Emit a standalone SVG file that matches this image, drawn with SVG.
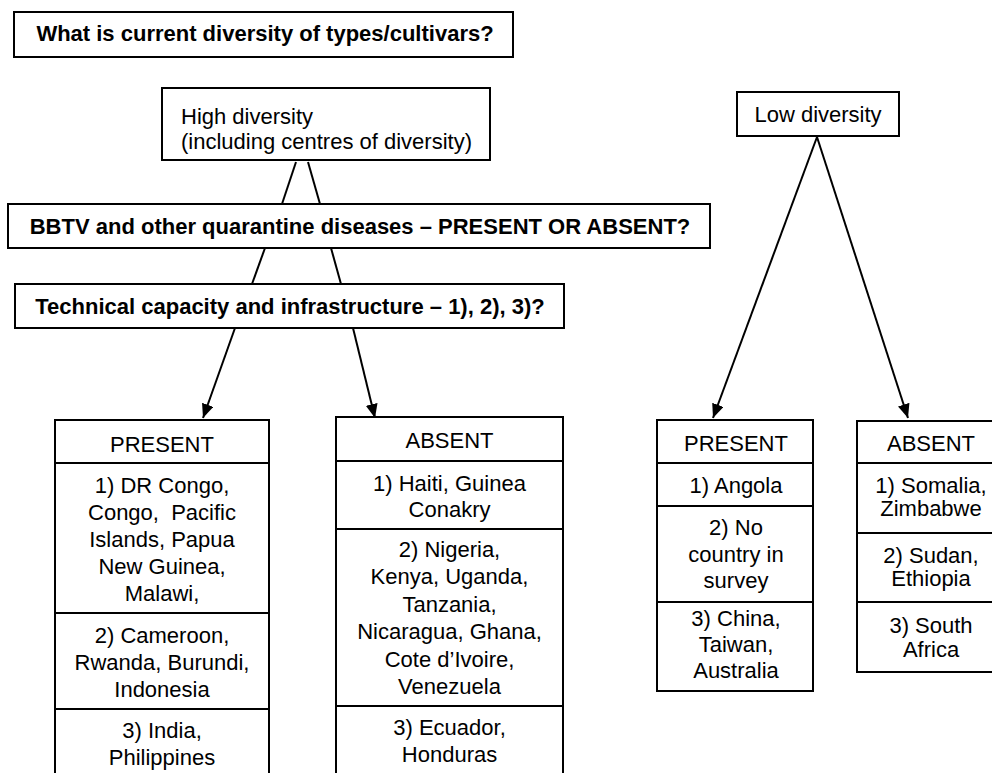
<svg xmlns="http://www.w3.org/2000/svg" width="992" height="773" viewBox="0 0 992 773">
<style>
.box{fill:#fff;stroke:#000;stroke-width:2}
.div{stroke:#000;stroke-width:2;fill:none}
.t{font-family:"Liberation Sans",Arial,Helvetica,sans-serif;font-size:22px;fill:#000}
.c{text-anchor:middle}
.b{font-weight:bold}
.ln{stroke:#000;stroke-width:2;fill:none}
.ar{marker-end:url(#ah)}
</style>
<defs>
<marker id="ah" markerUnits="userSpaceOnUse" markerWidth="14" markerHeight="12" refX="14" refY="6" orient="auto">
<path d="M0,0 L14,6 L0,12 z" fill="#000"/>
</marker>
</defs>
<rect width="992" height="773" fill="#fff"/>

<g id="question">
<rect class="box" x="14" y="12" width="499" height="45"/>
<text class="t b c" x="265" y="41">What is current diversity of types/cultivars?</text>
</g>

<g id="high-diversity">
<rect class="box" x="162" y="88" width="328" height="72"/>
<text class="t" x="181" y="124">High diversity</text>
<text class="t" x="181" y="149">(including centres of diversity)</text>
</g>

<g id="low-diversity">
<rect class="box" x="737" y="92" width="162" height="44"/>
<text class="t c" x="818" y="122">Low diversity</text>
</g>

<g id="bbtv">
<rect class="box" x="8" y="204" width="702" height="44"/>
<text class="t b c" x="360" y="234">BBTV and other quarantine diseases – PRESENT OR ABSENT?</text>
</g>

<g id="technical">
<rect class="box" x="15" y="284" width="549" height="44"/>
<text class="t b c" x="290" y="314">Technical capacity and infrastructure – 1), 2), 3)?</text>
</g>

<g id="connectors">
<line class="ln" x1="296" y1="162" x2="282" y2="204"/>
<line class="ln" x1="308" y1="162" x2="320" y2="204"/>
<line class="ln" x1="265" y1="248" x2="252" y2="284"/>
<line class="ln" x1="331" y1="248" x2="341" y2="284"/>
<line class="ln ar" x1="235" y1="328" x2="203" y2="418"/>
<line class="ln ar" x1="353" y1="328" x2="375" y2="418"/>
<line class="ln ar" x1="817" y1="137" x2="713" y2="418"/>
<line class="ln ar" x1="817" y1="137" x2="908" y2="418"/>
</g>

<g id="high-present">
<rect class="box" x="55" y="420" width="214" height="370"/>
<line class="div" x1="55" y1="463" x2="269" y2="463"/>
<line class="div" x1="55" y1="613" x2="269" y2="613"/>
<line class="div" x1="55" y1="709" x2="269" y2="709"/>
<text class="t c" x="162" y="452">PRESENT</text>
<text class="t c" x="162" y="493">1) DR Congo,</text>
<text class="t c" x="162" y="520" style="white-space:pre">Congo,  Pacific</text>
<text class="t c" x="162" y="547">Islands, Papua</text>
<text class="t c" x="162" y="574">New Guinea,</text>
<text class="t c" x="162" y="601">Malawi,</text>
<text class="t c" x="162" y="643">2) Cameroon,</text>
<text class="t c" x="162" y="670">Rwanda, Burundi,</text>
<text class="t c" x="162" y="697">Indonesia</text>
<text class="t c" x="162" y="738">3) India,</text>
<text class="t c" x="162" y="765">Philippines</text>
</g>

<g id="high-absent">
<rect class="box" x="336" y="417" width="227" height="373"/>
<line class="div" x1="336" y1="461" x2="563" y2="461"/>
<line class="div" x1="336" y1="529" x2="563" y2="529"/>
<line class="div" x1="336" y1="706" x2="563" y2="706"/>
<text class="t c" x="449.5" y="448">ABSENT</text>
<text class="t c" x="449.5" y="491">1) Haiti, Guinea</text>
<text class="t c" x="449.5" y="517">Conakry</text>
<text class="t c" x="449.5" y="557">2) Nigeria,</text>
<text class="t c" x="449.5" y="584">Kenya, Uganda,</text>
<text class="t c" x="449.5" y="612">Tanzania,</text>
<text class="t c" x="449.5" y="639">Nicaragua, Ghana,</text>
<text class="t c" x="449.5" y="667">Cote d’Ivoire,</text>
<text class="t c" x="449.5" y="694">Venezuela</text>
<text class="t c" x="449.5" y="735">3) Ecuador,</text>
<text class="t c" x="449.5" y="762">Honduras</text>
</g>

<g id="low-present">
<rect class="box" x="657" y="420" width="156" height="271"/>
<line class="div" x1="657" y1="463" x2="813" y2="463"/>
<line class="div" x1="657" y1="506" x2="813" y2="506"/>
<line class="div" x1="657" y1="602" x2="813" y2="602"/>
<text class="t c" x="736" y="451">PRESENT</text>
<text class="t c" x="736" y="493">1) Angola</text>
<text class="t c" x="736" y="535">2) No</text>
<text class="t c" x="736" y="562">country in</text>
<text class="t c" x="736" y="588">survey</text>
<text class="t c" x="736" y="626">3) China,</text>
<text class="t c" x="736" y="652">Taiwan,</text>
<text class="t c" x="736" y="678">Australia</text>
</g>

<g id="low-absent">
<rect class="box" x="857" y="421" width="148" height="251"/>
<line class="div" x1="857" y1="463" x2="1005" y2="463"/>
<line class="div" x1="857" y1="533" x2="1005" y2="533"/>
<line class="div" x1="857" y1="602" x2="1005" y2="602"/>
<text class="t c" x="931" y="451">ABSENT</text>
<text class="t c" x="931" y="493">1) Somalia,</text>
<text class="t c" x="931" y="516">Zimbabwe</text>
<text class="t c" x="931" y="563">2) Sudan,</text>
<text class="t c" x="931" y="586">Ethiopia</text>
<text class="t c" x="931" y="633">3) South</text>
<text class="t c" x="931" y="657">Africa</text>
</g>
</svg>
